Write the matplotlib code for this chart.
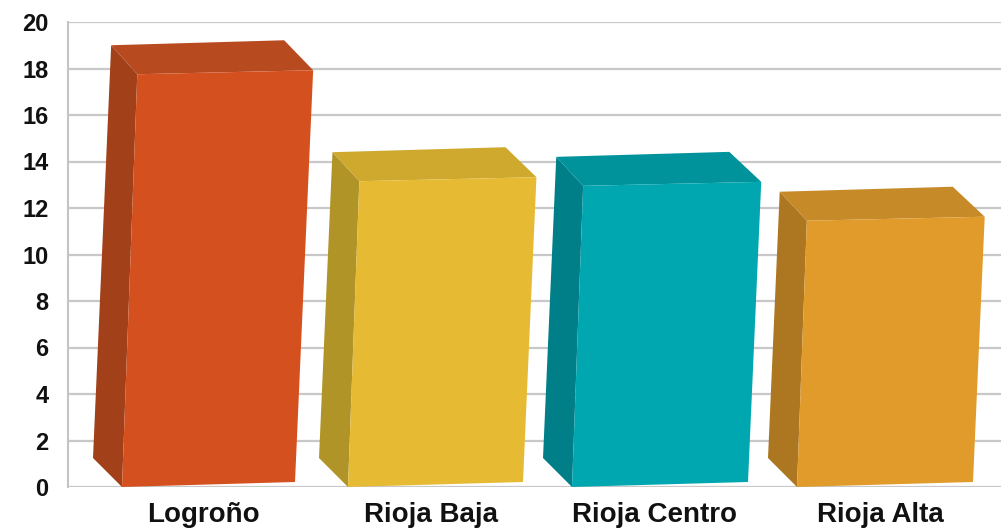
import matplotlib
matplotlib.use("Agg")
import matplotlib.pyplot as plt
from matplotlib.patches import Polygon

categories = ["Logroño", "Rioja Baja", "Rioja Centro", "Rioja Alta"]
values = [19.0, 14.4, 14.2, 12.7]
y_ticks = [0, 2, 4, 6, 8, 10, 12, 14, 16, 18, 20]
front_colors = ["#D4511F", "#E6BB33", "#00A7B0", "#E09B2B"]
side_colors = ["#A2401A", "#B09428", "#007F89", "#AD7722"]
top_colors = ["#B84A20", "#CEA92D", "#00939C", "#C68A28"]

W, H = 1001, 530
AX_L, AX_T, AX_B = 68, 22, 487
plt.rcParams["font.family"] = ["Liberation Sans", "DejaVu Sans"]
fig = plt.figure(figsize=(W / 100, H / 100), dpi=100)
ax = fig.add_axes([AX_L / W, 1 - AX_B / H, (W - AX_L) / W, (AX_B - AX_T) / H])
ax.set_xlim(AX_L, W)
ax.set_ylim(0, 20)
unit = (AX_B - AX_T) / 20

ax.set_yticks(y_ticks)
ax.set_xticks([])
for s in ["top", "right", "bottom"]:
    ax.spines[s].set_visible(False)
ax.spines["left"].set_color("#C4C4C4")
ax.spines["left"].set_linewidth(1.5)
ax.tick_params(axis="y", length=0, pad=14, labelsize=17)
for t in ax.get_yticklabels():
    t.set_fontweight("bold")
    t.set_color("#111111")
ax.grid(axis="y", color="#C8C8C8", linewidth=1.6)
ax.set_axisbelow(True)

left = [122, 348, 572, 797]
width = [173, 175, 176, 176]
for i, v in enumerate(values):
    depth = 29 / unit
    front_top = v - depth
    x0 = left[i]
    w = width[i]
    h_px = front_top * unit
    lean_l = 0.037 * h_px
    lean_r = 0.044 * h_px
    bl = (x0, 0)
    br = (x0 + w, 5 / unit)
    tl = (x0 + lean_l, front_top)
    tr = (x0 + w + lean_r, front_top + 4 / unit)
    bbl = (x0 - 29, depth)
    btl = (x0 - 29 + 0.044 * (v * unit - 29), v)
    btr = (btl[0] + 173, v + 5 / unit)
    ax.add_patch(Polygon([bbl, bl, tl, btl], closed=True, fc=side_colors[i], ec="none", zorder=3))
    ax.add_patch(Polygon([btl, btr, tr, tl], closed=True, fc=top_colors[i], ec="none", zorder=3))
    ax.add_patch(Polygon([bl, br, tr, tl], closed=True, fc=front_colors[i], ec="none", zorder=4))
    ax.text(x0 + w / 2 - 5, -1.2, categories[i], ha="center", va="center",
            fontsize=20, fontweight="bold", color="#111111", clip_on=False)

fig.savefig("out.png", dpi=100, facecolor="white")
